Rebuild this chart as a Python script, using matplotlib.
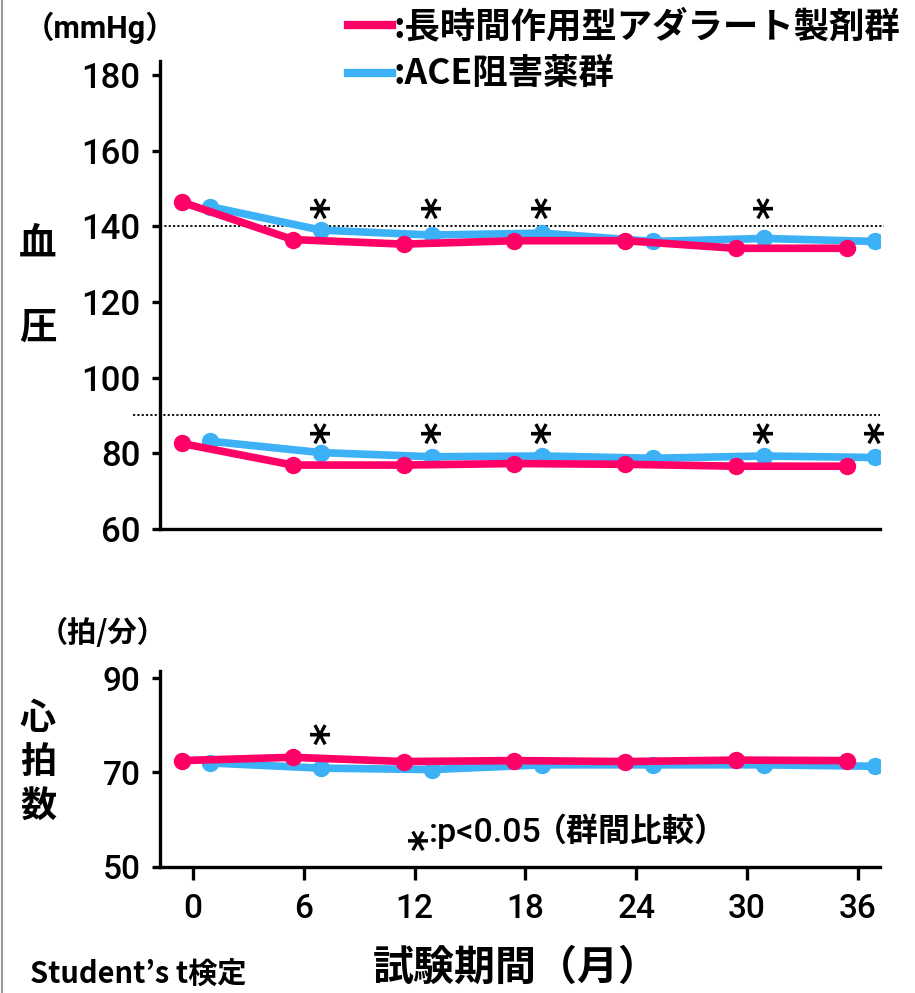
import matplotlib
matplotlib.use("Agg")
import matplotlib.pyplot as plt
from matplotlib.lines import Line2D

# ---------------- data ----------------
months = [0, 6, 12, 18, 24, 30, 36]
xtick_labels = ["0", "6", "12", "18", "24", "30", "36"]

sbp_adalat = [146.4, 136.5, 135.3, 136.2, 136.2, 134.2, 134.2]
sbp_ace = [145.2, 139.0, 137.7, 138.2, 136.0, 136.8, 136.0]
dbp_adalat = [82.6, 76.9, 76.9, 77.3, 77.1, 76.6, 76.6]
dbp_ace = [83.2, 80.2, 79.1, 79.3, 78.7, 79.3, 78.9]
hr_adalat = [72.5, 73.2, 72.3, 72.5, 72.3, 72.6, 72.5]
hr_ace = [72.0, 70.9, 70.6, 71.6, 71.6, 71.6, 71.3]

sbp_sig = [6, 12, 18, 30]
dbp_sig = [6, 12, 18, 30, 36]
hr_sig = [6]

bp_yticks = [60, 80, 100, 120, 140, 160, 180]
hr_yticks = [50, 70, 90]
ref_lines = [140, 90]

label_adalat = ":長時間作用型アダラート製剤群"
label_ace = ":ACE阻害薬群"

# ---------------- style ----------------
RED = "#FF0066"
BLUE = "#3DB1F5"
RED_OFF = -0.6
BLUE_OFF = 0.92
JP = ["Noto Sans CJK JP", "DejaVu Sans"]
NUM = ["Roboto", "Liberation Sans", "Noto Sans CJK JP", "DejaVu Sans"]
NUMW = "medium"

W, H = 915, 993
fig = plt.figure(figsize=(W / 100, H / 100), dpi=100)


def ax_px(x0, y0, x1, y1):
    return fig.add_axes([x0 / W, 1 - y1 / H, (x1 - x0) / W, (y1 - y0) / H])


XLIM = (-1.79, 37.2)

ax1 = ax_px(160, 61, 880, 529)
ax2 = ax_px(160, 671, 880, 866.7)

for ax in (ax1, ax2):
    ax.set_xlim(*XLIM)
    for s in ("top", "right"):
        ax.spines[s].set_visible(False)
    for s in ("left", "bottom"):
        ax.spines[s].set_linewidth(2.4)
    ax.tick_params(axis="y", width=2.4, length=6, pad=8)
    ax.tick_params(axis="x", width=2.4, length=9, pad=10)

ax1.set_ylim(60, 183.7)
ax2.set_ylim(50, 91.5)

ax1.set_yticks(bp_yticks)
ax1.set_yticklabels([str(v) for v in bp_yticks], fontsize=25, family=NUM, weight=NUMW)
ax1.set_xticks([])
ax2.set_yticks(hr_yticks)
ax2.set_yticklabels([str(v) for v in hr_yticks], fontsize=24, family=NUM, weight=NUMW)
ax2.set_xticks(months)
ax2.set_xticklabels(xtick_labels, fontsize=24, family=NUM, weight=NUMW)

xr = [m + RED_OFF for m in months]
xb = [m + BLUE_OFF for m in months]
lkw = dict(lw=5.5, marker="o", ms=11.5, solid_capstyle="butt")

for ser_b, ser_r in ((sbp_ace, sbp_adalat), (dbp_ace, dbp_adalat)):
    ax1.plot(xb, ser_b, color=BLUE, zorder=3, **lkw)
    ax1.plot(xr, ser_r, color=RED, zorder=4, **lkw)
ax2.plot(xb, hr_ace, color=BLUE, zorder=3, **lkw)
ax2.plot(xr, hr_adalat, color=RED, zorder=4, **lkw)

# reference dotted lines
ax1.plot([XLIM[0], 37.4], [ref_lines[0]] * 2, color="black", lw=1.3,
         ls=(0, (1.2, 1.2)), clip_on=False, zorder=2)
ax1.plot([-3.25, XLIM[1]], [ref_lines[1]] * 2, color="black", lw=1.3,
         ls=(0, (1.2, 1.2)), clip_on=False, zorder=2)

# significance asterisks (rotated so that one arm is vertical)
akw = dict(ha="center", va="center", fontsize=31, family=["DejaVu Sans"],
           weight="bold", color="black", rotation=90,
           textcoords="offset points", xytext=(8.5, 1.2))
for m in sbp_sig:
    ax1.annotate("*", xy=(m + BLUE_OFF - 0.15, 144.6), **akw)
for m in dbp_sig:
    ax1.annotate("*", xy=(m + BLUE_OFF - 0.15, 85.1), **akw)
for m in hr_sig:
    ax2.annotate("*", xy=(m + BLUE_OFF - 0.15, 77.9), **akw)

# texts in pixel positions
def ftext(x, y, s, **kw):
    fig.text(x / W, 1 - y / H, s, **kw)

ftext(24, 28, "（mmHg）", fontsize=22, family=NUM, weight="bold", va="center", ha="left")
ftext(39, 633, "（拍/分）", fontsize=21, family=JP, weight="bold", va="center", ha="left")

# legend
fig.add_artist(Line2D([348 / W, 392 / W], [1 - 25 / H] * 2, color=RED, lw=6))
fig.add_artist(Line2D([348 / W, 392 / W], [1 - 73 / H] * 2, color=BLUE, lw=6))
ftext(394, 27, label_adalat, fontsize=25.5, family=JP, weight="bold", va="center", ha="left")
ftext(394, 73, label_ace, fontsize=25.5, family=JP, weight="bold", va="center", ha="left")

# y labels
ftext(38, 243, "血", fontsize=27, family=JP, weight="bold", va="center", ha="center")
ftext(38, 327, "圧", fontsize=27, family=JP, weight="bold", va="center", ha="center")
for s, y in zip("心拍数", (718, 763, 806)):
    ftext(38, y, s, fontsize=26, family=JP, weight="bold", va="center", ha="center")

ftext(516, 968, "試験期間（月）", fontsize=29.5, family=JP, weight="bold", va="center", ha="center")
ftext(30, 975, "Student’s t検定", fontsize=21, family=JP, weight="bold", va="center", ha="left")
ftext(427, 840, "*", fontsize=30, family=["DejaVu Sans"], weight="bold", rotation=-90,
      va="center", ha="right")
ftext(429, 833, ":p<0.05", fontsize=24.5, family=NUM, weight=NUMW, va="center", ha="left")
ftext(535, 832, "（群間比較）", fontsize=23, family=JP, weight="bold", va="center", ha="left")

# left grey border
fig.add_artist(Line2D([2 / W, 2 / W], [0, 1], color="#9a9a9a", lw=1.5))

fig.savefig("out.png", dpi=100)
